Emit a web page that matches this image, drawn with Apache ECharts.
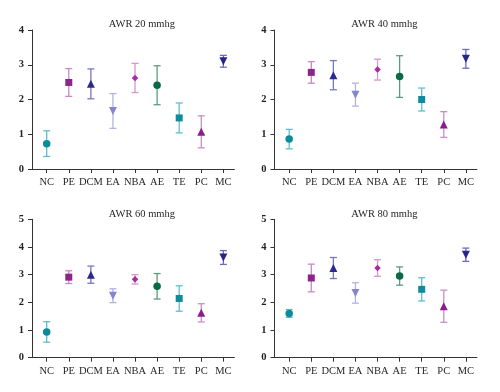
<!DOCTYPE html>
<html><head><meta charset="utf-8">
<script src="https://cdn.jsdelivr.net/npm/echarts@6/dist/echarts.min.js"></script>
<style>html,body{margin:0;padding:0;background:#fff}#c{width:500px;height:392px}</style>
</head><body><div id="c"></div>
<script>
const categories = ['NC','PE','DCM','EA','NBA','AE','TE','PC','MC'];
const titles = ['AWR 20 mmhg','AWR 40 mmhg','AWR 60 mmhg','AWR 80 mmhg'];
const yMax = [4, 4, 5, 5];
const yTicks = [[0,1,2,3,4],[0,1,2,3,4],[0,1,2,3,4,5],[0,1,2,3,4,5]];

const mean20 = [0.73, 2.49, 2.45, 1.67, 2.62, 2.41, 1.47, 1.07, 3.10];
const err20  = [0.37, 0.40, 0.43, 0.50, 0.42, 0.56, 0.43, 0.46, 0.17];
const mean40 = [0.86, 2.78, 2.70, 2.14, 2.86, 2.66, 2.00, 1.28, 3.17];
const err40  = [0.28, 0.31, 0.42, 0.33, 0.30, 0.60, 0.33, 0.37, 0.27];
const mean60 = [0.93, 2.91, 3.00, 2.24, 2.83, 2.58, 2.14, 1.62, 3.62];
const err60  = [0.37, 0.23, 0.31, 0.25, 0.17, 0.46, 0.46, 0.33, 0.25];
const mean80 = [1.60, 2.88, 3.24, 2.34, 3.24, 2.95, 2.47, 1.86, 3.72];
const err80  = [0.14, 0.50, 0.38, 0.37, 0.30, 0.33, 0.42, 0.58, 0.24];

const means = [mean20, mean40, mean60, mean80];
const errs = [err20, err40, err60, err80];

// styles
const markerColors = ['#0c8b9b','#8b2589','#2b2b8d','#8585d0','#ab2aa3','#0b6a46','#0f8c9c','#8a1c8d','#25258a'];
const barColors    = ['#5ebecb','#c888c6','#7878bd','#b3b3e2','#d597cf','#5a9c7f','#5fbfcb','#c88ec7','#6c6cbd'];
const symbols = ['circle','rect','triangle','triangle','diamond','circle','rect','triangle','triangle'];
const symRot  = [0,0,0,180,0,0,0,0,180];
const symSize = [7.5,7,8,8,6.5,7.5,7,8,8];

const grids = [
  {left:32, top:30, width:202.4, height:139},
  {left:274.5, top:30, width:202.4, height:139},
  {left:32, top:219.3, width:202.4, height:138.4},
  {left:274.5, top:219.3, width:202.4, height:138.4}
];
const font = 'Liberation Serif';
const txt = '#231f20';

const option = {
  backgroundColor:'#fff',
  animation:false,
  title: titles.map((t,i)=>({
    text:t, left: grids[i].left + 3.7 + grids[i].width/2, top: grids[i].top - 16, textAlign:'center',
    textStyle:{fontFamily:font, fontSize:10.5, fontWeight:'normal', color:txt}
  })),
  grid: grids,
  xAxis: grids.map((g,i)=>({
    type:'value', gridIndex:i, min:0.334, max:9.5,
    axisLine:{show:true, onZero:false, lineStyle:{color:'#333', width:1}},
    axisTick:{show:true, length:4, customValues:[1,2,3,4,5,6,7,8,9], lineStyle:{color:'#333'}},
    axisLabel:{customValues:[1,2,3,4,5,6,7,8,9], formatter:v=>categories[Math.round(v)-1]||'',
      fontFamily:font, fontSize:10.5, color:txt, margin:8},
    splitLine:{show:false}
  })),
  yAxis: grids.map((g,i)=>({
    type:'value', gridIndex:i, min:0, max:yMax[i], interval:1,
    axisLine:{show:true, lineStyle:{color:'#333', width:1}},
    axisTick:{show:true, length:4, lineStyle:{color:'#333'}},
    axisLabel:{fontFamily:font, fontSize:10.5, fontWeight:'bold', color:txt, margin:8},
    splitLine:{show:false}
  })),
  series: []
};

for (let p=0;p<4;p++){
  option.series.push({
    type:'custom', xAxisIndex:p, yAxisIndex:p, z:2,
    data: means[p].map((m,i)=>[i+1, m, errs[p][i]]),
    renderItem:(params, api)=>{
      const x = api.value(0), m = api.value(1), e = api.value(2);
      const top = api.coord([x, m+e]), bot = api.coord([x, m-e]);
      const c = barColors[params.dataIndex];
      const w = 3.5;
      const st = {stroke:c, lineWidth:1.3};
      return {type:'group', children:[
        {type:'line', shape:{x1:top[0],y1:top[1],x2:bot[0],y2:bot[1]}, style:st},
        {type:'line', shape:{x1:top[0]-w,y1:top[1],x2:top[0]+w,y2:top[1]}, style:st},
        {type:'line', shape:{x1:bot[0]-w,y1:bot[1],x2:bot[0]+w,y2:bot[1]}, style:st}
      ]};
    }
  });
  option.series.push({
    type:'scatter', xAxisIndex:p, yAxisIndex:p, z:3,
    data: means[p].map((m,i)=>({
      value:[i+1, m], symbol:symbols[i], symbolRotate:symRot[i], symbolSize:symSize[i],
      itemStyle:{color:markerColors[i], opacity:1}
    }))
  });
}

const chart = echarts.init(document.getElementById('c'), null, {renderer:'canvas'});
chart.setOption(option);
</script></body></html>
